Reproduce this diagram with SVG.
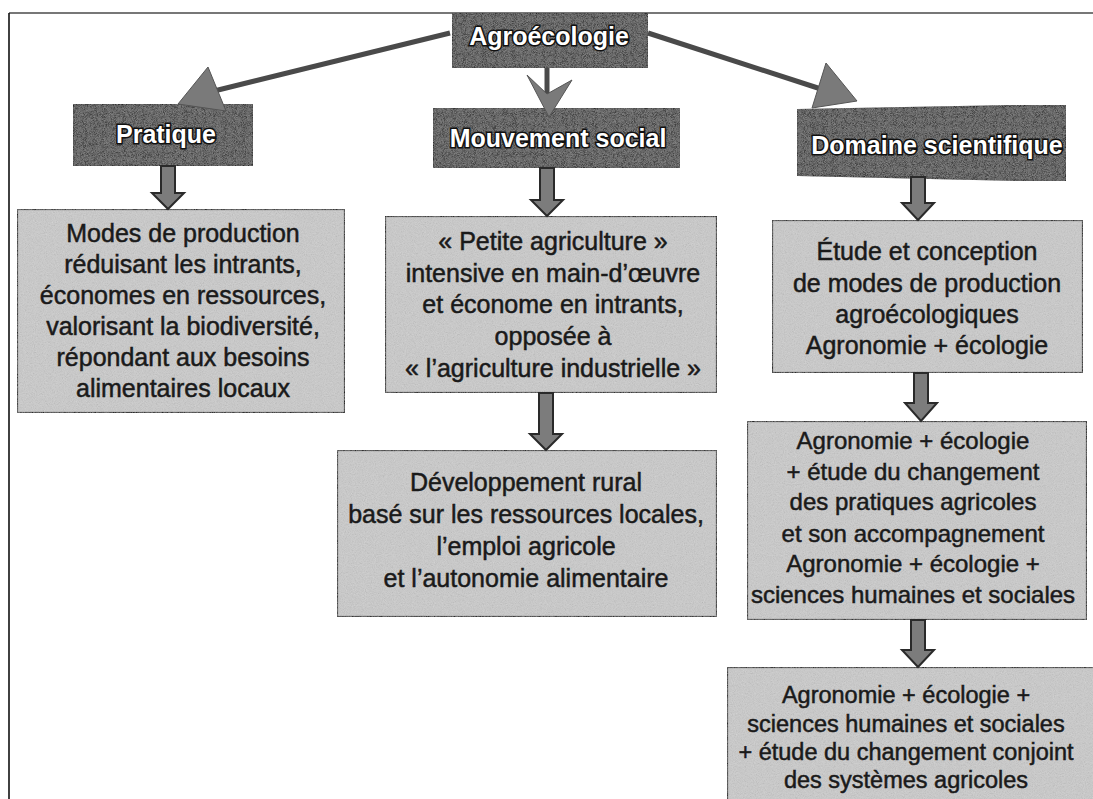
<svg xmlns="http://www.w3.org/2000/svg" width="1093" height="799" viewBox="0 0 1093 799">
<defs>
<filter id="grain" x="0" y="0" width="100%" height="100%">
<feTurbulence type="fractalNoise" baseFrequency="0.9" numOctaves="2" seed="4" result="t"/>
<feColorMatrix in="t" type="saturate" values="0" result="g"/>
<feComponentTransfer in="g" result="g2"><feFuncA type="table" tableValues="0 0.05 0.3 0.05 0"/></feComponentTransfer>
<feComposite in="g2" in2="SourceGraphic" operator="in" result="m"/>
<feMerge><feMergeNode in="SourceGraphic"/><feMergeNode in="m"/></feMerge>
</filter>
<style>
.hdr{fill:#3b3b3b;stroke:#1e1e1e;stroke-width:2}
.box{fill:#cbcbcb;stroke:#1c1c1c;stroke-width:2.2}
.ht{font-family:"Liberation Sans",Arial,sans-serif;font-weight:bold;font-size:25px;fill:#ffffff;stroke:#111;stroke-width:3;paint-order:stroke;text-anchor:middle}
.bt{font-family:"Liberation Sans",Arial,sans-serif;font-size:25px;fill:#1a1a1a;stroke:#1a1a1a;stroke-width:0.5;text-anchor:middle}
.blk{fill:#7c7c7c;stroke:#2a2a2a;stroke-width:2;stroke-linejoin:miter}
.ln{stroke:#4a4a4a;stroke-width:5;fill:none}
.ah{fill:#7a7a7a;stroke:#555;stroke-width:1}
</style>
</defs>
<rect width="1093" height="799" fill="#ffffff"/>
<line x1="9" y1="13" x2="1093" y2="13" stroke="#777" stroke-width="2"/>
<line x1="9" y1="13" x2="9" y2="799" stroke="#111" stroke-width="1.6"/>

<g id="agroecologie">
<rect class="hdr" x="452" y="13" width="196" height="55" filter="url(#grain)"/>
<text class="ht" x="549" y="45">Agroécologie</text>
</g>
<g id="pratique">
<rect class="hdr" x="73" y="104" width="180" height="62" filter="url(#grain)"/>
<text class="ht" x="166" y="143">Pratique</text>
</g>
<g id="mouvement">
<rect class="hdr" x="433" y="108" width="247" height="60" filter="url(#grain)"/>
<text class="ht" x="558" y="147">Mouvement social</text>
</g>
<g id="domaine">
<polygon class="hdr" points="797,110 1066,105 1066,181 797,175" filter="url(#grain)"/>
<text class="ht" x="937" y="154">Domaine scientifique</text>
</g>

<g id="box-pratique">
<rect class="box" x="17" y="209" width="328" height="204" filter="url(#grain)"/>
<text class="bt" x="183" y="242">Modes de production</text>
<text class="bt" x="183" y="273">réduisant les intrants,</text>
<text class="bt" x="183" y="304">économes en ressources,</text>
<text class="bt" x="183" y="335">valorisant la biodiversité,</text>
<text class="bt" x="183" y="366">répondant aux besoins</text>
<text class="bt" x="183" y="397">alimentaires locaux</text>
</g>
<g id="box-mouvement1">
<rect class="box" x="385" y="216" width="332" height="177" filter="url(#grain)"/>
<text class="bt" x="553" y="250">« Petite agriculture »</text>
<text class="bt" x="553" y="282">intensive en main-d’œuvre</text>
<text class="bt" x="553" y="313">et économe en intrants,</text>
<text class="bt" x="553" y="345">opposée à</text>
<text class="bt" x="553" y="377">« l’agriculture industrielle »</text>
</g>
<g id="box-mouvement2">
<rect class="box" x="337" y="450" width="380" height="167" filter="url(#grain)"/>
<text class="bt" x="526" y="491">Développement rural</text>
<text class="bt" x="526" y="523">basé sur les ressources locales,</text>
<text class="bt" x="526" y="555">l’emploi agricole</text>
<text class="bt" x="526" y="587">et l’autonomie alimentaire</text>
</g>
<g id="box-domaine1">
<rect class="box" x="772" y="220" width="311" height="153" filter="url(#grain)"/>
<text class="bt" x="927" y="260">Étude et conception</text>
<text class="bt" x="927" y="292">de modes de production</text>
<text class="bt" x="927" y="323">agroécologiques</text>
<text class="bt" x="927" y="354">Agronomie + écologie</text>
</g>
<g id="box-domaine2">
<rect class="box" x="747" y="421" width="340" height="199" filter="url(#grain)"/>
<text class="bt" x="913" y="449" style="font-size:24px">Agronomie + écologie</text>
<text class="bt" x="913" y="480" style="font-size:24px">+ étude du changement</text>
<text class="bt" x="913" y="510" style="font-size:24px">des pratiques agricoles</text>
<text class="bt" x="913" y="542" style="font-size:24px">et son accompagnement</text>
<text class="bt" x="913" y="572" style="font-size:24px">Agronomie + écologie +</text>
<text class="bt" x="913" y="603" style="font-size:24px">sciences humaines et sociales</text>
</g>
<g id="box-domaine3">
<rect class="box" x="727" y="667" width="380" height="150" filter="url(#grain)"/>
<text class="bt" x="906" y="703" style="font-size:23.5px">Agronomie + écologie +</text>
<text class="bt" x="906" y="732" style="font-size:23.5px">sciences humaines et sociales</text>
<text class="bt" x="906" y="760" style="font-size:23.5px">+ étude du changement conjoint</text>
<text class="bt" x="906" y="788" style="font-size:23.5px">des systèmes agricoles</text>
</g>

<g id="connectors">
<line class="ln" x1="450" y1="33" x2="210" y2="92"/>
<polygon class="ah" points="208,67 178,104 226,111"/>
<line class="ln" x1="547" y1="68" x2="547" y2="95"/>
<polygon class="ah" points="527,75 547,94 572,80 549,117"/>
<line class="ln" x1="648" y1="33" x2="824" y2="90"/>
<polygon class="ah" points="826,63 812,108 857,101"/>
<path class="blk" d="M161,166 H175 V193 H184 L168,209 L152,193 H161 Z"/>
<path class="blk" d="M540,168 H554 V200 H563 L547,216 L531,200 H540 Z"/>
<path class="blk" d="M539,393 H553 V434 H562 L546,450 L530,434 H539 Z"/>
<path class="blk" d="M911,177 H925 V203 H934 L918,220 L902,203 H911 Z"/>
<path class="blk" d="M914,373 H928 V403 H937 L921,421 L905,403 H914 Z"/>
<path class="blk" d="M911,620 H925 V650 H934 L918,667 L902,650 H911 Z"/>
</g>
</svg>
